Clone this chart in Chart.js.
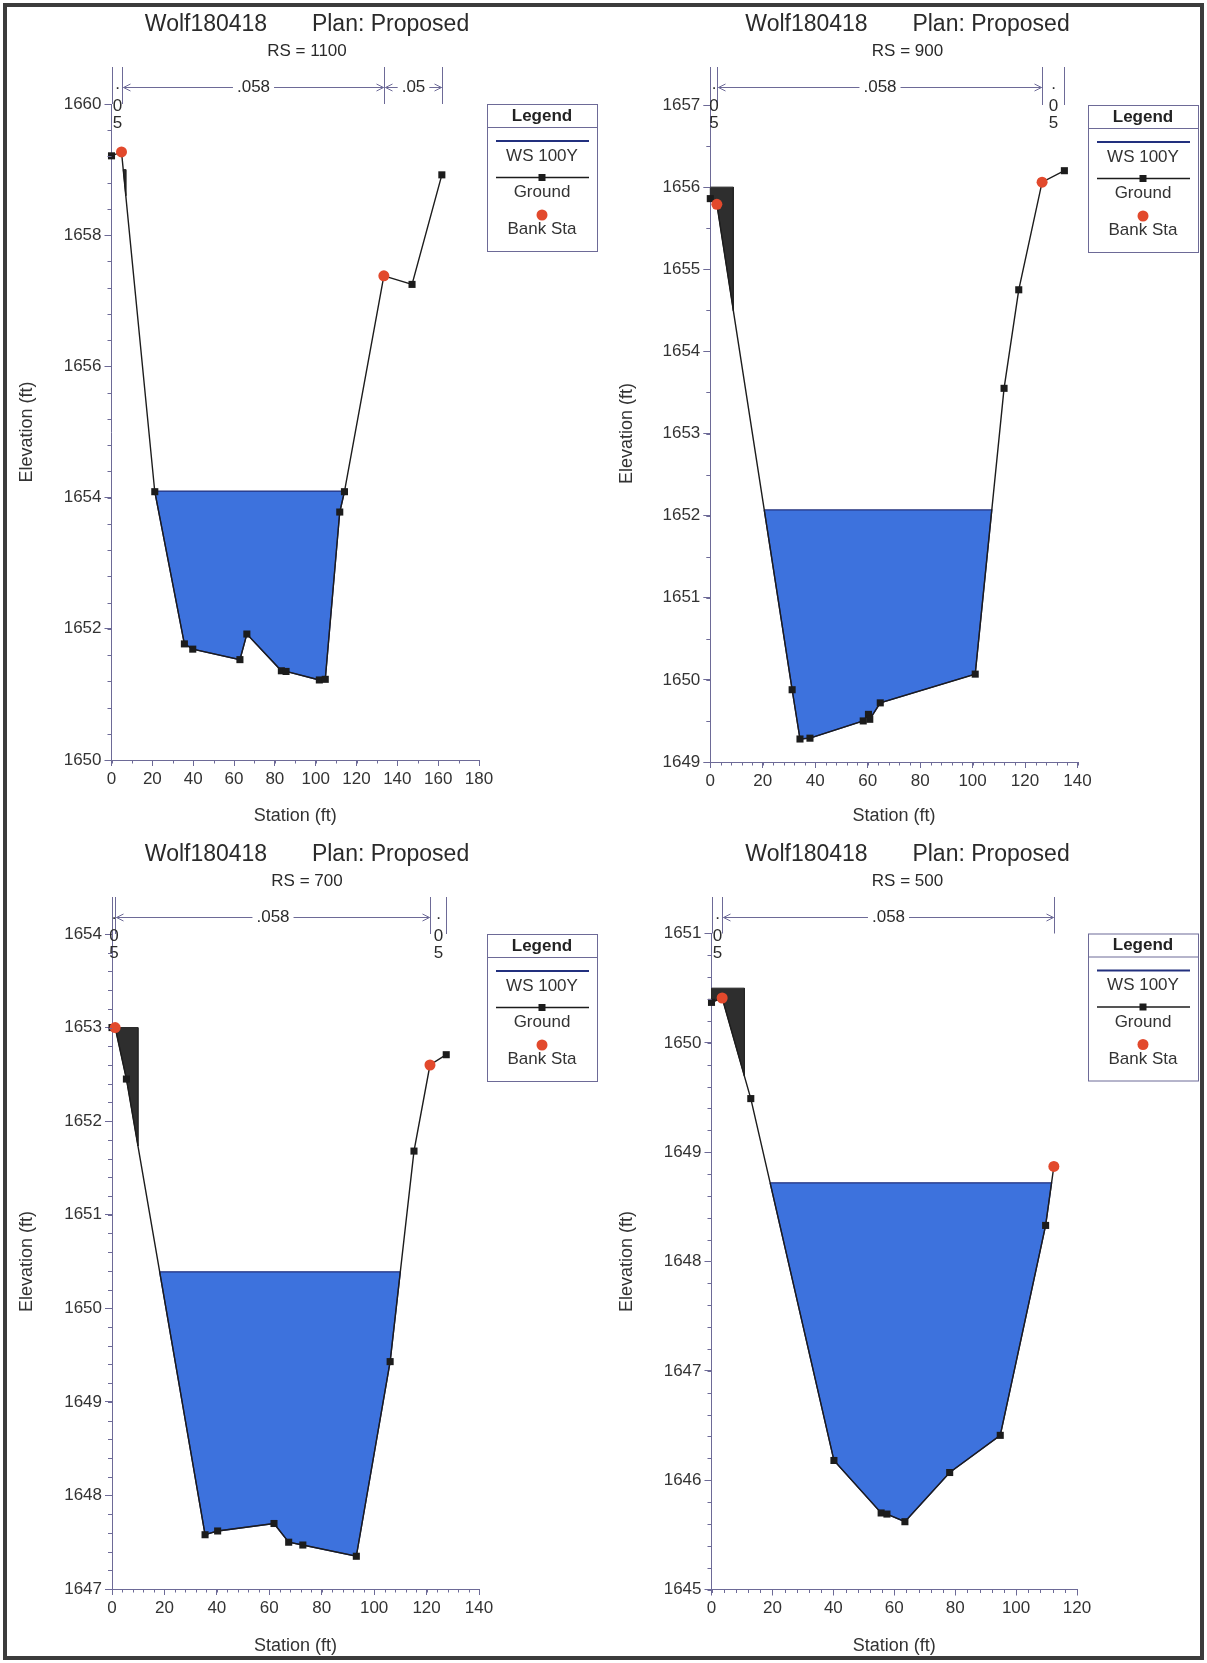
<!DOCTYPE html>
<html>
<head>
<meta charset="utf-8">
<script src="https://cdn.jsdelivr.net/npm/chart.js@4.4.1/dist/chart.umd.min.js"></script>
<style>
html, body { margin: 0; padding: 0; background: #fff; }
#page { position: relative; width: 1207px; height: 1663px; overflow: hidden; background: #fff; }
#frame { position: absolute; left: 3px; top: 3px; width: 1201px; height: 1657px; box-sizing: border-box; border: 4px solid #3c3c3c; }
canvas { position: absolute; }
</style>
</head>
<body>
<div id="page"><div id="frame"></div></div>
<script>
const FONT = '"Liberation Sans", Arial, sans-serif';
const AXIS = '#6d6a97';
const INK = '#2b2b2b';

// ---- RS = 1100 ----
const rs1100Station = [0, 4.9, 21.2, 35.7, 39.8, 62.9, 66.3, 83.2, 85.5, 101.8, 104.7, 111.8, 114.1, 133.4, 147.2, 161.8];
const rs1100Elev = [1659.21, 1659.27, 1654.09, 1651.77, 1651.69, 1651.53, 1651.92, 1651.36, 1651.35, 1651.22, 1651.23, 1653.78, 1654.09, 1657.38, 1657.25, 1658.92];
const rs1100Bank = [4.9, 133.4];
const rs1100WS = 1654.1;
const rs1100Ineff = [7.0, 1659.0];          // left ineffective: end station, elevation
const rs1100NSta = [0, 4.9, 133.4, 161.8];
const rs1100NVal = ['.05', '.058', '.05'];
const rs1100XTicks = [0, 20, 40, 60, 80, 100, 120, 140, 160, 180];
const rs1100YTicks = [1650, 1652, 1654, 1656, 1658, 1660];

// ---- RS = 900 ----
const rs900Station = [0, 2.5, 31.2, 34.2, 38.0, 58.3, 60.3, 60.8, 64.8, 101.0, 112.0, 117.6, 126.5, 135.0];
const rs900Elev = [1655.86, 1655.79, 1649.88, 1649.28, 1649.29, 1649.50, 1649.58, 1649.52, 1649.72, 1650.07, 1653.55, 1654.75, 1656.06, 1656.20];
const rs900Bank = [2.5, 126.5];
const rs900WS = 1652.07;
const rs900Ineff = [8.8, 1656.0];
const rs900NSta = [0, 2.5, 126.5, 135.0];
const rs900NVal = ['.05', '.058', '.05'];
const rs900XTicks = [0, 20, 40, 60, 80, 100, 120, 140];
const rs900YTicks = [1649, 1650, 1651, 1652, 1653, 1654, 1655, 1656, 1657];

// ---- RS = 700 ----
const rs700Station = [0, 1.2, 5.5, 35.5, 40.3, 61.8, 67.4, 72.8, 93.2, 106.1, 115.2, 121.3, 127.5];
const rs700Elev = [1653.0, 1653.0, 1652.45, 1647.58, 1647.62, 1647.70, 1647.50, 1647.47, 1647.35, 1649.43, 1651.68, 1652.60, 1652.71];
const rs700Bank = [1.2, 121.3];
const rs700WS = 1650.39;
const rs700Ineff = [9.9, 1653.0];
const rs700NSta = [0, 1.2, 121.3, 127.5];
const rs700NVal = ['.05', '.058', '.05'];
const rs700XTicks = [0, 20, 40, 60, 80, 100, 120, 140];
const rs700YTicks = [1647, 1648, 1649, 1650, 1651, 1652, 1653, 1654];

// ---- RS = 500 ----
const rs500Station = [0, 3.5, 12.9, 40.2, 55.7, 57.6, 63.5, 78.2, 94.8, 109.7, 112.4];
const rs500Elev = [1650.37, 1650.41, 1649.49, 1646.18, 1645.70, 1645.69, 1645.62, 1646.07, 1646.41, 1648.33, 1648.87];
const rs500Bank = [3.5, 112.4];
const rs500WS = 1648.72;
const rs500Ineff = [10.8, 1650.5];
const rs500NSta = [0, 3.5, 112.4];
const rs500NVal = ['.05', '.058'];
const rs500XTicks = [0, 20, 40, 60, 80, 100, 120];
const rs500YTicks = [1645, 1646, 1647, 1648, 1649, 1650, 1651];

const sections = [
  { rs: '1100', sta: rs1100Station, elev: rs1100Elev, bank: rs1100Bank, ws: rs1100WS, ineff: rs1100Ineff, nSta: rs1100NSta, nVal: rs1100NVal, xTicks: rs1100XTicks, yTicks: rs1100YTicks, xMinor: 10, yMinor: 0.4 },
  { rs: '900', sta: rs900Station, elev: rs900Elev, bank: rs900Bank, ws: rs900WS, ineff: rs900Ineff, nSta: rs900NSta, nVal: rs900NVal, xTicks: rs900XTicks, yTicks: rs900YTicks, xMinor: 4, yMinor: 0.5 },
  { rs: '700', sta: rs700Station, elev: rs700Elev, bank: rs700Bank, ws: rs700WS, ineff: rs700Ineff, nSta: rs700NSta, nVal: rs700NVal, xTicks: rs700XTicks, yTicks: rs700YTicks, xMinor: 4, yMinor: 0.2 },
  { rs: '500', sta: rs500Station, elev: rs500Elev, bank: rs500Bank, ws: rs500WS, ineff: rs500Ineff, nSta: rs500NSta, nVal: rs500NVal, xTicks: rs500XTicks, yTicks: rs500YTicks, xMinor: 4, yMinor: 0.2 }
];

// canvas placement and plot-area edges inside each canvas
const boxes = [
  { left: 0,   top: 0,   w: 614, h: 832, L: 111.5, R: 479,   T: 104,   B: 760 },
  { left: 600, top: 0,   w: 615, h: 832, L: 110.3, R: 477.5, T: 105,   B: 762 },
  { left: 0,   top: 830, w: 614, h: 832, L: 112,   R: 479,   T: 104,   B: 759 },
  { left: 600, top: 830, w: 615, h: 832, L: 111.5, R: 477,   T: 103.5, B: 759.5 }
];

function groundAt(sta, elev, x) {
  for (let i = 1; i < sta.length; i++) {
    if (x <= sta[i]) {
      const t = (x - sta[i - 1]) / (sta[i] - sta[i - 1]);
      return elev[i - 1] + t * (elev[i] - elev[i - 1]);
    }
  }
  return elev[elev.length - 1];
}

// closed outline of the region between the ground and a level, over [x0, x1]
function belowLevel(sta, elev, level, x0, x1) {
  const xs = [x0, x1];
  sta.forEach(s => { if (s > x0 && s < x1) xs.push(s); });
  for (let i = 1; i < sta.length; i++) {
    const a = elev[i - 1] - level, b = elev[i] - level;
    if (a * b < 0) {
      const x = sta[i - 1] + (sta[i] - sta[i - 1]) * a / (a - b);
      if (x > x0 && x < x1) xs.push(x);
    }
  }
  xs.sort((p, q) => p - q);
  const bottom = xs.map(x => ({ x, y: groundAt(sta, elev, x) })).filter(p => p.y <= level + 1e-6);
  const first = bottom[0], last = bottom[bottom.length - 1];
  return [{ x: first.x, y: level }, { x: last.x, y: level }, ...bottom.reverse(), { x: first.x, y: level }];
}

function drawLegend(ctx, x, y, chart) {
  const w = 110, h = 147, cx = x + w / 2;
  const water = chart.data.datasets[0], ground = chart.data.datasets[2], bank = chart.data.datasets[3];
  ctx.strokeStyle = AXIS; ctx.lineWidth = 1;
  ctx.strokeRect(x + 0.5, y + 0.5, w, h);
  ctx.beginPath(); ctx.moveTo(x, y + 23.5); ctx.lineTo(x + w, y + 23.5); ctx.stroke();
  ctx.textAlign = 'center'; ctx.textBaseline = 'middle'; ctx.fillStyle = '#222';
  ctx.font = 'bold 17px ' + FONT;
  ctx.fillText('Legend', cx, y + 12);
  ctx.font = '17px ' + FONT; ctx.fillStyle = '#333';
  ctx.strokeStyle = water.borderColor; ctx.lineWidth = 2;
  ctx.beginPath(); ctx.moveTo(x + 9, y + 37); ctx.lineTo(x + w - 8, y + 37); ctx.stroke();
  ctx.fillText(water.label, cx, y + 52);
  ctx.strokeStyle = ground.borderColor; ctx.lineWidth = 1.5;
  ctx.beginPath(); ctx.moveTo(x + 9, y + 73.5); ctx.lineTo(x + w - 8, y + 73.5); ctx.stroke();
  ctx.fillStyle = ground.pointBackgroundColor; ctx.fillRect(cx - 3.5, y + 70, 7, 7);
  ctx.fillStyle = '#333';
  ctx.fillText(ground.label, cx, y + 88.5);
  ctx.fillStyle = bank.pointBackgroundColor;
  ctx.beginPath(); ctx.arc(cx, y + 111, 5.5, 0, Math.PI * 2); ctx.fill();
  ctx.fillStyle = '#333';
  ctx.fillText(bank.label, cx, y + 125.5);
}

function arrowHead(ctx, px, ay, dir) {
  ctx.beginPath();
  ctx.moveTo(px - dir * 7, ay - 3.5); ctx.lineTo(px, ay); ctx.lineTo(px - dir * 7, ay + 3.5);
  ctx.stroke();
}

const xsecPlugin = {
  id: 'xsec',
  afterDraw(chart, args, o) {
    const { ctx, chartArea: a, scales: { x, y } } = chart;
    ctx.save();
    ctx.strokeStyle = AXIS; ctx.lineWidth = 1;
    // minor ticks
    ctx.beginPath();
    for (let v = x.min; v <= x.max + 1e-6; v += o.xMinor) {
      const px = Math.round(x.getPixelForValue(v)) + 0.5;
      ctx.moveTo(px, a.bottom); ctx.lineTo(px, a.bottom + 3.5);
    }
    for (let v = y.min; v <= y.max + 1e-6; v += o.yMinor) {
      const py = Math.round(y.getPixelForValue(v)) + 0.5;
      ctx.moveTo(a.left - 4, py); ctx.lineTo(a.left, py);
    }
    ctx.stroke();
    // Manning's n bar above the plot
    const top = 67, ay = 87.5;
    ctx.beginPath();
    o.nSta.forEach(s => {
      const px = Math.round(x.getPixelForValue(s)) + 0.5;
      ctx.moveTo(px, top); ctx.lineTo(px, a.top);
    });
    ctx.stroke();
    ctx.font = '17px ' + FONT; ctx.fillStyle = INK;
    ctx.textAlign = 'center'; ctx.textBaseline = 'middle';
    for (let i = 0; i < o.nVal.length; i++) {
      const p0 = Math.round(x.getPixelForValue(o.nSta[i])) + 0.5;
      const p1 = Math.round(x.getPixelForValue(o.nSta[i + 1])) + 0.5;
      const label = o.nVal[i];
      const tw = ctx.measureText(label).width;
      const mid = (p0 + p1) / 2;
      if (p1 - p0 > tw + 24) {
        ctx.fillText(label, mid, ay);
        ctx.beginPath();
        ctx.moveTo(p0 + 1, ay); ctx.lineTo(mid - tw / 2 - 4, ay);
        ctx.moveTo(mid + tw / 2 + 4, ay); ctx.lineTo(p1 - 1, ay);
        ctx.stroke();
        arrowHead(ctx, p0 + 1, ay, -1);
        arrowHead(ctx, p1 - 1, ay, 1);
      } else {
        label.split('').forEach((c, k) => {
          ctx.fillText(c, mid, k === 0 ? 84 : 106 + (k - 1) * 17);
        });
      }
    }
    drawLegend(ctx, chart.width - 127, a.top, chart);
    ctx.restore();
  }
};

function makeChart(sec, box) {
  const cv = document.createElement('canvas');
  cv.width = box.w; cv.height = box.h;
  cv.style.left = box.left + 'px'; cv.style.top = box.top + 'px';
  document.getElementById('page').appendChild(cv);

  const ground = sec.sta.map((s, i) => ({ x: s, y: sec.elev[i] }));
  const water = belowLevel(sec.sta, sec.elev, sec.ws, sec.sta[0], sec.sta[sec.sta.length - 1]);
  const ineff = belowLevel(sec.sta, sec.elev, sec.ineff[1], sec.sta[0], sec.ineff[0]);
  const bank = sec.bank.map(s => ({ x: s, y: groundAt(sec.sta, sec.elev, s) }));

  const xT = sec.xTicks, yT = sec.yTicks;
  new Chart(cv, {
    type: 'line',
    data: {
      datasets: [
        { label: 'WS 100Y', data: water, borderColor: '#22307e', borderWidth: 1.3, backgroundColor: '#3d72dd',
          fill: 'shape', pointRadius: 0, tension: 0, order: 4, clip: false },
        { label: 'Ineff', data: ineff, borderColor: '#262626', borderWidth: 1, backgroundColor: '#2e2e2e',
          fill: 'shape', pointRadius: 0, tension: 0, order: 3, clip: false },
        { label: 'Ground', data: ground, borderColor: '#1c1c1c', borderWidth: 1.4, pointStyle: 'rect',
          pointRadius: 5, pointBackgroundColor: '#1c1c1c', pointBorderWidth: 0, fill: false, tension: 0, order: 2, clip: false },
        { label: 'Bank Sta', data: bank, showLine: false, pointStyle: 'circle', pointRadius: 5.5,
          pointBackgroundColor: '#e2492c', pointBorderWidth: 0, order: 1, clip: false }
      ]
    },
    options: {
      responsive: false,
      animation: false,
      devicePixelRatio: 1,
      layout: { padding: 0 },
      events: [],
      scales: {
        x: {
          type: 'linear', position: 'bottom', min: xT[0], max: xT[xT.length - 1],
          afterBuildTicks: s => { s.ticks = xT.map(v => ({ value: v })); },
          afterFit: s => { s.height = box.h - box.B; },
          grid: { drawOnChartArea: false, tickLength: 6, color: AXIS },
          border: { color: AXIS, width: 1 },
          ticks: { color: '#333', font: { size: 17 }, padding: 3, maxRotation: 0, callback: v => String(v) },
          title: { display: true, text: 'Station (ft)', color: '#333', font: { size: 18 }, padding: { top: 0, bottom: 4.7 } }
        },
        y: {
          type: 'linear', position: 'left', min: yT[0], max: yT[yT.length - 1],
          afterBuildTicks: s => { s.ticks = yT.map(v => ({ value: v })); },
          afterFit: s => { s.width = box.L; },
          grid: { drawOnChartArea: false, tickLength: 7, color: AXIS },
          border: { color: AXIS, width: 1 },
          ticks: { color: '#333', font: { size: 17 }, padding: 3, callback: v => String(v) },
          title: { display: true, text: 'Elevation (ft)', color: '#333', font: { size: 18 }, padding: { top: 16.2, bottom: 0 } }
        },
        side: {
          type: 'linear', position: 'right', display: true,
          afterFit: s => { s.width = box.w - box.R; },
          grid: { display: false }, border: { display: false }, ticks: { display: false }
        }
      },
      plugins: {
        legend: { display: false },
        tooltip: { enabled: false },
        title: { display: true, text: 'Wolf180418       Plan: Proposed', color: '#2a2a2a',
          font: { size: 23, weight: 'normal' }, padding: { top: 11.2, bottom: 0 } },
        subtitle: { display: true, text: 'RS = ' + sec.rs, color: '#2a2a2a',
          font: { size: 17 }, padding: { top: 2.7, bottom: box.T - 61.9 } },
        xsec: { nSta: sec.nSta, nVal: sec.nVal, xMinor: sec.xMinor, yMinor: sec.yMinor }
      }
    },
    plugins: [xsecPlugin]
  });
}

Chart.defaults.font.family = FONT;
sections.forEach((sec, i) => makeChart(sec, boxes[i]));
</script>
</body>
</html>
